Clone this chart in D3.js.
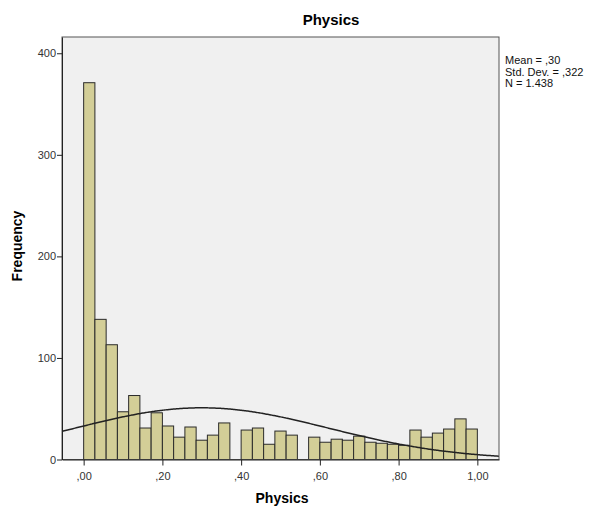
<!DOCTYPE html>
<html>
<head>
<meta charset="utf-8">
<script src="https://cdn.jsdelivr.net/npm/d3@7"></script>
<style>
  html, body { margin: 0; padding: 0; background: #fff; }
  svg { display: block; }
  text { font-family: Arial, "Liberation Sans", sans-serif; }
</style>
</head>
<body>
<svg id="chart" width="590" height="508"></svg>
<script>
// Histogram of Physics scores: 35 equal bins from 0 to 1
const binEdgesStart = 0;
const binEdgesEnd = 1;
const binCounts = [371, 138, 113, 47, 63, 31, 46, 33, 22, 32, 19, 24, 36, 0, 29, 31, 15, 28, 24, 0,
                   22, 17, 20, 19, 23, 17, 16, 15, 14, 29, 22, 26, 30, 40, 30];

// Summary statistics shown beside the plot
const statMean = 0.30;
const statSD = 0.322;
const statN = 1438;
const statLabels = ["Mean = ,30", "Std. Dev. = ,322", "N = 1.438"];

// Axis ticks
const xTicks = [0, 0.2, 0.4, 0.6, 0.8, 1.0];
const xTickLabels = [",00", ",20", ",40", ",60", ",80", "1,00"];
const yTicks = [0, 100, 200, 300, 400];

const svg = d3.select("#chart");
const frame = { left: 62, right: 499, top: 37, bottom: 459.5 };

const x = d3.scaleLinear().domain([-0.055, 1.055]).range([frame.left, frame.right]);
const y = d3.scaleLinear().domain([0, 416]).range([frame.bottom, frame.top]);

const nBins = binCounts.length;
const binW = (binEdgesEnd - binEdgesStart) / nBins;
const bins = binCounts.map((c, i) => ({ x0: binEdgesStart + i * binW, x1: binEdgesStart + (i + 1) * binW, c }));

// Plot background
svg.append("rect")
  .attr("x", frame.left).attr("y", frame.top)
  .attr("width", frame.right - frame.left).attr("height", frame.bottom - frame.top)
  .attr("fill", "#f0f0f0");

svg.append("defs").append("clipPath").attr("id", "plotClip")
  .append("rect")
  .attr("x", frame.left).attr("y", frame.top)
  .attr("width", frame.right - frame.left).attr("height", frame.bottom - frame.top);

// Bars
svg.append("g").selectAll("rect")
  .data(bins.filter(b => b.c > 0))
  .join("rect")
  .attr("x", d => x(d.x0))
  .attr("y", d => y(d.c))
  .attr("width", d => x(d.x1) - x(d.x0))
  .attr("height", d => y(0) - y(d.c))
  .attr("fill", "#d3ce97")
  .attr("stroke", "#2b2b2b")
  .attr("stroke-width", 1);

// Fitted normal curve scaled to counts per bin
const pdf = v => Math.exp(-0.5 * Math.pow((v - statMean) / statSD, 2)) / (statSD * Math.sqrt(2 * Math.PI));
const curvePts = d3.range(0, 201).map(i => {
  const v = x.domain()[0] + (x.domain()[1] - x.domain()[0]) * i / 200;
  return [v, statN * binW * pdf(v)];
});
svg.append("path")
  .datum(curvePts)
  .attr("clip-path", "url(#plotClip)")
  .attr("fill", "none")
  .attr("stroke", "#222")
  .attr("stroke-width", 1.5)
  .attr("d", d3.line().x(d => x(d[0])).y(d => y(d[1])).curve(d3.curveBasis));

// Frame
svg.append("rect")
  .attr("x", frame.left).attr("y", frame.top)
  .attr("width", frame.right - frame.left).attr("height", frame.bottom - frame.top)
  .attr("fill", "none").attr("stroke", "#555").attr("stroke-width", 1);

// Axes
const xAxis = d3.axisBottom(x).tickValues(xTicks)
  .tickFormat((d, i) => xTickLabels[i]).tickSize(6).tickSizeOuter(0);
const gx = svg.append("g").attr("transform", `translate(0,${frame.bottom})`).call(xAxis);
gx.select(".domain").attr("stroke", "#222");
gx.selectAll(".tick line").attr("stroke", "#222");
gx.selectAll(".tick text").attr("font-size", 11).attr("fill", "#333").attr("dy", "1.05em")
  .style("font-family", "Arial, 'Liberation Sans', sans-serif");

const yAxis = d3.axisLeft(y).tickValues(yTicks).tickSize(5).tickSizeOuter(0);
const gy = svg.append("g").attr("transform", `translate(${frame.left},0)`).call(yAxis);
gy.select(".domain").attr("stroke", "#222");
gy.selectAll(".tick line").attr("stroke", "#222");
gy.selectAll(".tick text").attr("font-size", 11).attr("fill", "#333").attr("x", -6)
  .style("font-family", "Arial, 'Liberation Sans', sans-serif");

// Titles
svg.append("text").attr("x", 331).attr("y", 25).attr("text-anchor", "middle")
  .attr("font-size", 15).attr("font-weight", "bold").attr("fill", "#000").text("Physics");
svg.append("text").attr("x", 282).attr("y", 503).attr("text-anchor", "middle")
  .attr("font-size", 14).attr("font-weight", "bold").attr("fill", "#000").text("Physics");
svg.append("text").attr("transform", "translate(22,246) rotate(-90)").attr("text-anchor", "middle")
  .attr("font-size", 14).attr("font-weight", "bold").attr("fill", "#000").text("Frequency");

// Statistics box
svg.append("g").selectAll("text").data(statLabels).join("text")
  .attr("x", 505).attr("y", (d, i) => 64 + i * 11.5)
  .attr("font-size", 11).attr("fill", "#111").text(d => d);
</script>
</body>
</html>
